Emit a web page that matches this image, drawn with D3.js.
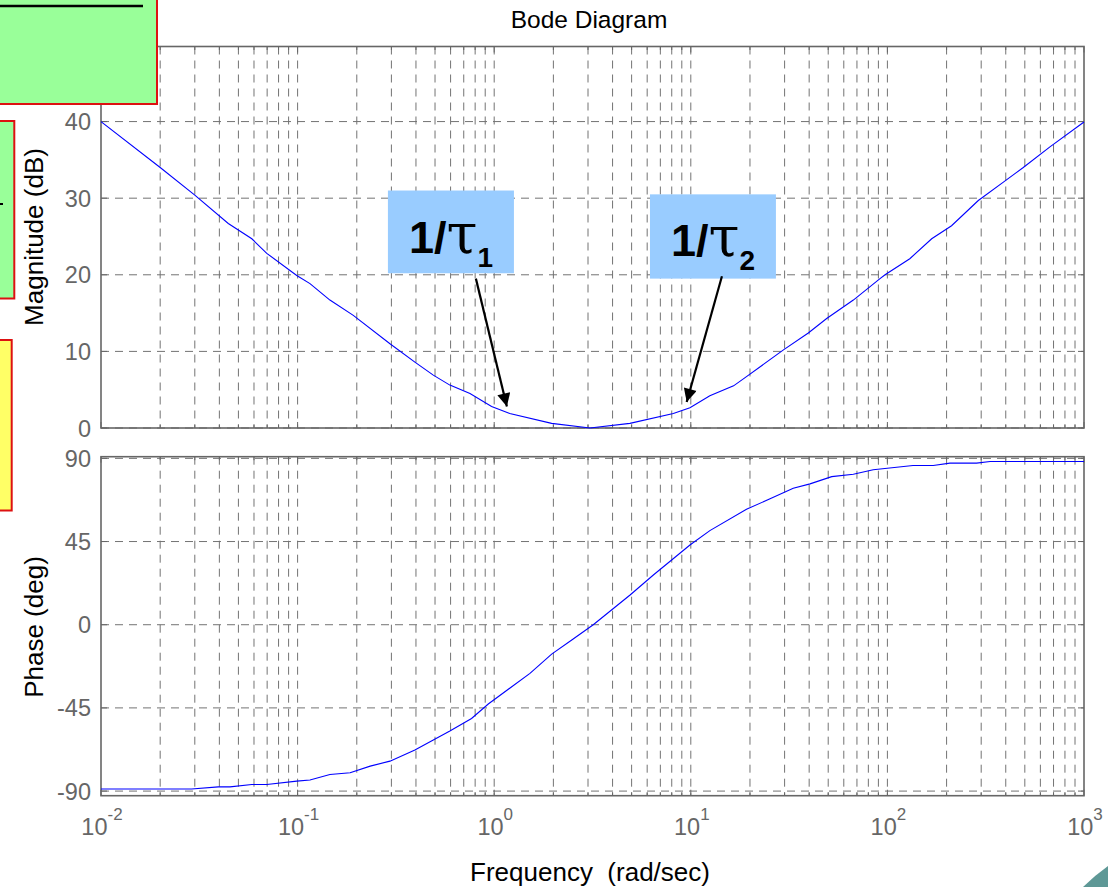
<!DOCTYPE html>
<html><head><meta charset="utf-8">
<script src="https://cdn.jsdelivr.net/npm/d3@7"></script>
<style>
html,body{margin:0;padding:0;background:#fff;}
svg{display:block;font-family:Arial,"Liberation Sans",Helvetica,sans-serif;}
</style></head>
<body>
<svg id="chart" width="1108" height="887"></svg>
<script>
// ---- data ----
const magFreq = [0.01,0.02,0.030,0.0444,0.0585,0.0697,0.099,0.1156,0.146,0.192,0.295,0.395,0.49,0.595,0.753,0.97,1.2,1.96,3.07,4.9,8.15,9.9,12.5,16.5,19.2,29.6,39.6,49.1,67.1,91.7,97.3,130,168,212,290,389,491,671,1000];
const magDb   = [40,34.0,30.4,26.7,24.7,22.8,19.9,18.85,16.7,14.7,11.0,8.6,6.9,5.6,4.5,2.8,1.9,0.6,0.0,0.6,1.9,2.65,4.2,5.5,6.7,10.2,12.4,14.3,16.7,19.5,20.0,22.1,24.7,26.4,29.7,32.1,34.0,36.7,39.95];
const phFreq  = [0.01,0.0289,0.0395,0.0453,0.0585,0.0697,0.099,0.1156,0.146,0.185,0.234,0.295,0.395,0.49,0.595,0.767,0.933,1.52,1.96,2.48,3.19,4.91,6.45,9.9,12.5,19.2,25.3,33.2,40.4,52.1,67.1,84.7,135,171,208,284,333,1000];
const phDeg   = [-88.9,-88.9,-87.7,-87.7,-86.4,-86.4,-84.6,-84.0,-81.0,-80.1,-76.5,-73.8,-67.8,-62.4,-57.5,-50.7,-42.9,-26.3,-15.9,-8.3,0.0,16.1,26.9,43.1,50.9,62.5,68.1,73.8,76.2,80.1,81.4,83.8,86.1,86.1,87.4,87.4,88.3,88.3];
const magTicks = [0,10,20,30,40];
const phTicks  = [-90,-45,0,45,90];
const decades  = [-2,-1,0,1,2,3];
const titleText = "Bode Diagram";
const magLabel = "Magnitude (dB)";
const phLabel = "Phase (deg)";
const xLabel = "Frequency  (rad/sec)";
// annotations: box and arrow positions in data coordinates (frequency, dB)
const annotations = [
  {main:"1/", tau:"τ", sub:"1", f0:0.288, f1:1.26, dbTop:31.0, dbBot:20.2, tailF:0.807, tailDb:19.5, tipF:1.16, tipDb:2.8},
  {main:"1/", tau:"τ", sub:"2", f0:6.2, f1:27.1, dbTop:30.5, dbBot:19.5, tailF:14.4, tailDb:19.8, tipF:9.53, tipDb:3.4}
];

const svg = d3.select("#chart");
const L = 101, R = 1084;
const x = d3.scaleLog().domain([0.01,1000]).range([L,R]);
const yMag = d3.scaleLinear().domain([0,49.8]).range([428,46.5]);
const yPh = d3.scaleLinear().domain([-92.5,90.9]).range([795.7,456.7]);

const gridColor = "#737373", axisColor = "#666", tickTextColor = "#666";

// minor+major frequency positions
const xGrid = [];
for (let d=-2; d<3; d++) for (let m=1; m<10; m++) xGrid.push(m*Math.pow(10,d));
xGrid.push(1000);

function panel(y, ticks, data, freqs){
  const [yb, yt] = y.range();
  const g = svg.append("g");
  g.selectAll("line.vg").data(xGrid.filter(f=>f>0.0100001 && f<999)).enter().append("line")
    .attr("x1",d=>x(d)).attr("x2",d=>x(d)).attr("y1",yt).attr("y2",yb)
    .attr("stroke",gridColor).attr("stroke-width",1).attr("stroke-dasharray","8,6");
  g.selectAll("line.hg").data(ticks).enter().append("line")
    .attr("x1",L).attr("x2",R).attr("y1",d=>y(d)).attr("y2",d=>y(d))
    .attr("stroke",gridColor).attr("stroke-width",1).attr("stroke-dasharray","8,6");
  xGrid.forEach(f=>{
    const major = Math.abs(Math.log10(f)-Math.round(Math.log10(f)))<1e-9;
    const len = major?6:3.5;
    g.append("line").attr("x1",x(f)).attr("x2",x(f)).attr("y1",yb).attr("y2",yb-len).attr("stroke",axisColor);
    g.append("line").attr("x1",x(f)).attr("x2",x(f)).attr("y1",yt).attr("y2",yt+len).attr("stroke",axisColor);
  });
  ticks.forEach(t=>{
    g.append("line").attr("x1",L).attr("x2",L+6).attr("y1",y(t)).attr("y2",y(t)).attr("stroke",axisColor);
    g.append("line").attr("x1",R).attr("x2",R-6).attr("y1",y(t)).attr("y2",y(t)).attr("stroke",axisColor);
  });
  g.append("rect").attr("x",L).attr("y",yt).attr("width",R-L).attr("height",yb-yt)
    .attr("fill","none").attr("stroke",axisColor).attr("stroke-width",1.6);
  g.selectAll("text.yt").data(ticks).enter().append("text")
    .attr("x",91).attr("y",d=>y(d)+8.5).attr("text-anchor","end")
    .attr("font-size",23.5).attr("fill",tickTextColor).text(d=>d);
  const line = d3.line().x((d,i)=>x(freqs[i])).y(d=>y(d));
  g.append("path").datum(data).attr("d",line).attr("fill","none").attr("stroke","#0000ff").attr("stroke-width",1.1);
}
panel(yMag, magTicks, magDb, magFreq);
panel(yPh, phTicks, phDeg, phFreq);

// x tick labels
decades.forEach(d=>{
  const t = svg.append("text").attr("x",x(Math.pow(10,d))+1).attr("y",835)
    .attr("text-anchor","middle").attr("fill",tickTextColor).attr("font-size",23.5);
  t.append("tspan").text("10");
  t.append("tspan").attr("dy",-15).attr("font-size",17).text(String(d));
});

// titles
svg.append("text").attr("x",589).attr("y",28).attr("text-anchor","middle").attr("font-size",24.5).attr("fill","#000").text(titleText);
svg.append("text").attr("transform","translate(43,237) rotate(-90)").attr("text-anchor","middle").attr("font-size",26).attr("fill","#000").text(magLabel);
svg.append("text").attr("transform","translate(43,627) rotate(-90)").attr("text-anchor","middle").attr("font-size",26).attr("fill","#000").text(phLabel);
svg.append("text").attr("x",590).attr("y",881).attr("text-anchor","middle").attr("font-size",26).attr("fill","#000").style("white-space","pre").text(xLabel);

// annotations
const defs = svg.append("defs");
defs.append("marker").attr("id","ah").attr("viewBox","0 0 10 10").attr("refX",10).attr("refY",5)
  .attr("markerWidth",7).attr("markerHeight",6).attr("markerUnits","strokeWidth").attr("orient","auto")
  .append("path").attr("d","M0,0 L10,5 L0,10 Z").attr("fill","#000");
annotations.forEach(a=>{
  const bx0 = x(a.f0), bx1 = x(a.f1), by0 = yMag(a.dbTop), by1 = yMag(a.dbBot);
  svg.append("rect").attr("x",bx0).attr("y",by0).attr("width",bx1-bx0).attr("height",by1-by0).attr("fill","#99ccff");
  const t = svg.append("text").attr("x",(bx0+bx1)/2).attr("y",by0+62).attr("text-anchor","middle").attr("fill","#000");
  t.append("tspan").attr("font-size",45).attr("font-weight","bold").text(a.main);
  t.append("tspan").attr("font-size",56).attr("font-family","'DejaVu Serif','Liberation Serif',serif").attr("font-weight","normal").text(a.tau);
  t.append("tspan").attr("font-size",28).attr("font-weight","bold").attr("dy",14).text(a.sub);
  svg.append("line").attr("x1",x(a.tailF)).attr("y1",yMag(a.tailDb)).attr("x2",x(a.tipF)).attr("y2",yMag(a.tipDb))
    .attr("stroke","#000").attr("stroke-width",2.2).attr("marker-end","url(#ah)");
});

// --- decorative left boxes (drawn on top) ---
svg.append("rect").attr("x",-5).attr("y",-5).attr("width",162).attr("height",109)
  .attr("fill","#99ff99").attr("stroke","#dd1111").attr("stroke-width",2);
svg.append("line").attr("x1",0).attr("x2",143).attr("y1",6).attr("y2",6).attr("stroke","#000").attr("stroke-width",2.5);
svg.append("rect").attr("x",-5).attr("y",121).attr("width",19.3).attr("height",177.5)
  .attr("fill","#99ff99").attr("stroke","#dd1111").attr("stroke-width",2);
svg.append("line").attr("x1",0).attr("x2",3).attr("y1",204).attr("y2",204).attr("stroke","#000").attr("stroke-width",2);
svg.append("rect").attr("x",-5).attr("y",340).attr("width",16.7).attr("height",170.5)
  .attr("fill","#ffff66").attr("stroke","#dd1111").attr("stroke-width",2);
svg.append("path").attr("d","M1083,887 Q1094,876 1108,866 L1108,887 Z").attr("fill","#5e9896");
</script>
</body></html>
